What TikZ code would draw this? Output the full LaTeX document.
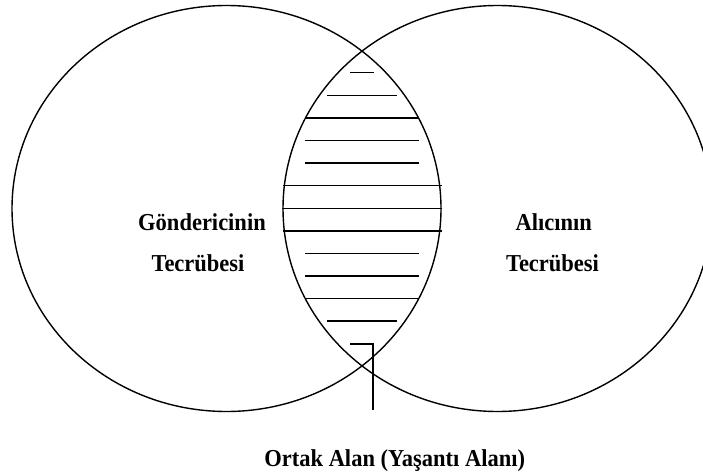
\documentclass[tikz,border=0pt]{standalone}
\usepackage{fontspec}
\usepackage{graphicx}
\setmainfont{Liberation Serif}
\newcommand{\tallt}[1]{\scalebox{1}[1.08]{#1}}
\begin{document}
\begin{tikzpicture}[x=1pt,y=-1pt,
  ring/.style={line width=1.4pt},
  hatch/.style={line width=1.5pt},
  lbl/.style={font=\fontsize{22.5}{27}\selectfont\bfseries, anchor=base, inner sep=0pt}]
\useasboundingbox (0,0) rectangle (703,473);
\clip (0,0) rectangle (703,473);
\draw[ring] (226.5,208.5) ellipse [x radius=214.5, y radius=203];
\draw[ring] (497.5,208.5) ellipse [x radius=214.5, y radius=203];
\foreach \yy/\xa/\xb in {72.7/350/374, 95.5/327/397, 118.1/305/418.5, 140.5/305/418.5,
  163.2/305/418.5, 185.7/282.5/441.5, 208.3/282.3/441.7, 230.8/282.5/441.5,
  253.4/305/418.5, 276/305/418.5, 298.6/305/418.5, 320.8/327/397}
  \draw[hatch] (\xa,\yy) -- (\xb,\yy);
\node[lbl] (g1) at (202,230.7) {\tallt{Göndericinin}};
\node[lbl] (g2) at (198,271.7) {\tallt{Tecrübesi}};
\node[lbl] (a1) at (553.7,230.7) {\tallt{Alıcının}};
\node[lbl] (a2) at (552.5,271.7) {\tallt{Tecrübesi}};
\node[lbl] (ortak) at (394.7,466) {\tallt{Ortak Alan (Yaşantı Alanı)}};
\coordinate (p0) at (350.3,343.8);
\coordinate (p1) at (373,343.8);
\coordinate (p2) at (373,410);
\draw[hatch] (p0) -- (p1) -- (p2);
\end{tikzpicture}
\end{document}
